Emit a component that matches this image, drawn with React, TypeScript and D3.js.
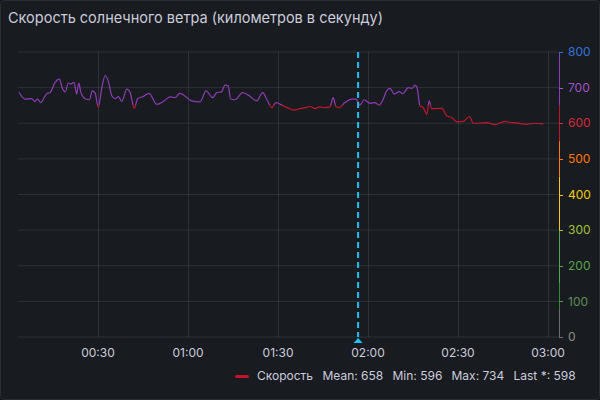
import React from "react";
import * as d3 from "d3";

const title = "Скорость солнечного ветра (километров в секунду)";
const seriesName = "Скорость";

// minutes after 00:00 and solar wind speed (km/s)
const minutes = [
  3.67, 5.67, 7.9, 9, 9.8, 10.9, 12.9, 14, 15.7, 17.1, 18.2, 19.1, 20.1, 20.9, 22, 22.9, 23.6, 24.3,
  25.7, 27.1, 28.1, 29, 30.1, 31.2, 32.4, 33.4, 34.6, 35.7, 36.8, 37.9, 39.6, 40.7, 42.1, 43.2, 45.1,
  47, 49.6, 51.8, 54, 55.7, 57.3, 61.2, 64, 66, 68.2, 69.6, 71.2, 72.3, 73.4, 74.2, 75.7, 78.2, 80.7,
  82.9, 84.9, 86.2, 87.9, 89.3, 91.2, 93.1, 95.1, 97.3, 99.3, 100.7, 102.3, 103.8, 105.7, 107.3, 108.4,
  109.3, 110.4, 112.3, 114.6, 116, 117.3, 118.7, 120.7, 122.3, 123.7, 125.1, 126.2, 127.3, 128.8, 130.4,
  131.6, 133.4, 134.6, 135.7, 136.4, 137.3, 138.4, 139.6, 140.4, 141.2, 142.9, 144.6, 146.2, 147.9,
  149.6, 151.8, 153.8, 155.1, 157.3, 159.6, 162.3, 165.7, 167.9, 169, 170.7, 172.9, 175.7, 178.4,
];
const speeds = [
  687, 668, 669, 661, 668, 658, 683, 686, 715, 724, 696, 688, 713, 710, 715, 682, 713, 686,
  669, 666, 691, 686, 644, 696, 734, 719, 677, 669, 675, 661, 696, 686, 642, 669, 675,
  684, 653, 661, 674, 672, 684, 663, 660, 691, 672, 686, 688, 707, 705, 668, 666, 686, 675,
  663, 686, 668, 644, 658, 651, 644, 637, 641, 644, 647, 641, 646, 644, 646, 672,
  647, 644, 658, 668, 668, 651, 666, 656, 658, 651, 668, 691, 698, 682, 689,
  683, 700, 698, 707, 698, 649, 644, 625, 663, 641, 641, 642, 621, 616,
  604, 605, 619, 600, 600, 602, 596, 605, 602, 602, 599, 597, 600, 598,
];

const windowStartMin = 3.33;
const windowEndMin = 183.33;
const annotationMin = 116.7;

const yTicks = [0, 100, 200, 300, 400, 500, 600, 700, 800];
const yTickColors = ["#8e8e8e", "#5f8f58", "#56A64B", "#a3c23a", "#F2CC0C", "#FF780A", "#D42A3B", "#A352CC", "#3274D9"];

// axis colour bands [from, to, colour]
const bandFrom = [0, 80, 150, 300, 450, 550, 650, 795];
const bandTo = [80, 150, 300, 450, 550, 650, 795, 800];
const bandColors = ["#6e6e6e", "#37872D", "#56A64B", "#F2CC0C", "#FF780A", "#C4162A", "#8F3BB8", "#3274D9"];

// line colour thresholds
const lineThreshold = 650;
const lineLowColor = "#C4162A";
const lineHighColor = "#8F3BB8";

const legendLabels = ["Mean: 658", "Min: 596", "Max: 734", "Last *: 598"];

const base = Date.UTC(2024, 0, 1, 0, 0, 0);
const toDate = (m: number) => new Date(base + m * 60000);

export default function App() {
  const W = 600;
  const H = 400;
  const left = 18;
  const right = 558;
  const top = 52;
  const bottom = 337;

  const x = d3.scaleUtc().domain([toDate(windowStartMin), toDate(windowEndMin)]).range([left, right]);
  const y = d3.scaleLinear().domain([0, 800]).range([bottom, top]);

  const data = minutes.map((m, i) => ({ t: toDate(m), v: speeds[i] }));
  const line = d3
    .line<{ t: Date; v: number }>()
    .x((d) => x(d.t))
    .y((d) => y(d.v))
    .curve(d3.curveMonotoneX);

  const xTicks = x.ticks(d3.utcMinute.every(30)!).filter((d) => x(d) > left + 5 && x(d) < right);
  const fmt = d3.utcFormat("%H:%M");
  const thrOff = lineThreshold / 800;
  const ax = x(toDate(annotationMin));

  const font = "Inter, 'Noto Sans', sans-serif";
  const grid = "rgba(204,204,220,0.12)";
  const text = "#ccccdc";

  const legendX = [322.5, 392.5, 451.5, 513.5];

  return (
    <>
      <style>{`body{margin:0;background:#111217}`}</style>
      <svg width={W} height={H} style={{ display: "block" }} fontFamily={font}>
        <defs>
          <linearGradient id="lineGrad" gradientUnits="userSpaceOnUse" x1={0} x2={0} y1={y(0)} y2={y(800)}>
            <stop offset={0} stopColor={lineLowColor} />
            <stop offset={thrOff} stopColor={lineLowColor} />
            <stop offset={thrOff} stopColor={lineHighColor} />
            <stop offset={1} stopColor={lineHighColor} />
          </linearGradient>
        </defs>
        <rect x={0.5} y={0.5} width={W - 1} height={H - 1} rx={3} fill="#181b1f" stroke="#2a2d33" />
        <text x={8} y={23} fill={text} fontSize={14.8} fontWeight={400} textLength={375} lengthAdjust="spacingAndGlyphs">
          {title}
        </text>
        {yTicks.map((t) => (
          <line key={"hy" + t} x1={left} x2={right + 1} y1={y(t)} y2={y(t)} stroke={grid} />
        ))}
        {xTicks.map((t) => (
          <line key={"vx" + +t} x1={Math.round(x(t)) + 0.5} x2={Math.round(x(t)) + 0.5} y1={top} y2={bottom} stroke={grid} />
        ))}
        {xTicks.map((t) => (
          <text key={"lx" + +t} x={x(t)} y={357} textAnchor="middle" fill={text} fontSize={12}>
            {fmt(t)}
          </text>
        ))}
        {bandFrom.map((f, i) => (
          <line key={"ax" + i} x1={right + 1.5} x2={right + 1.5} y1={y(f)} y2={y(bandTo[i])} stroke={bandColors[i]} />
        ))}
        {yTicks.map((t, i) => (
          <g key={"ty" + t}>
            <line x1={right + 1} x2={right + 5} y1={Math.round(y(t)) + 0.5} y2={Math.round(y(t)) + 0.5} stroke={yTickColors[i] === "#8e8e8e" ? "#6e6e6e" : yTickColors[i]} />
            <text x={right + 10} y={y(t)} dy="0.35em" fill={yTickColors[i]} fontSize={12}>
              {t}
            </text>
          </g>
        ))}
        <path d={line(data) || ""} fill="none" stroke="url(#lineGrad)" strokeWidth={1.2} />
        <line x1={ax} x2={ax} y1={top} y2={bottom} stroke="#1fc2f2" strokeWidth={2} strokeDasharray="6,4" />
        <path d={`M${ax},${bottom + 1}L${ax + 4.5},${bottom + 6}L${ax - 4.5},${bottom + 6}Z`} fill="#1fc2f2" />
        <rect x={235} y={375} width={14} height={3} rx={1.5} fill={lineLowColor} />
        <text x={257} y={376} dy="0.35em" fill={text} fontSize={12}>
          {seriesName}
        </text>
        {legendLabels.map((l, i) => (
          <text key={l} x={legendX[i]} y={376} dy="0.35em" fill={text} fontSize={12}>
            {l}
          </text>
        ))}
      </svg>
    </>
  );
}
